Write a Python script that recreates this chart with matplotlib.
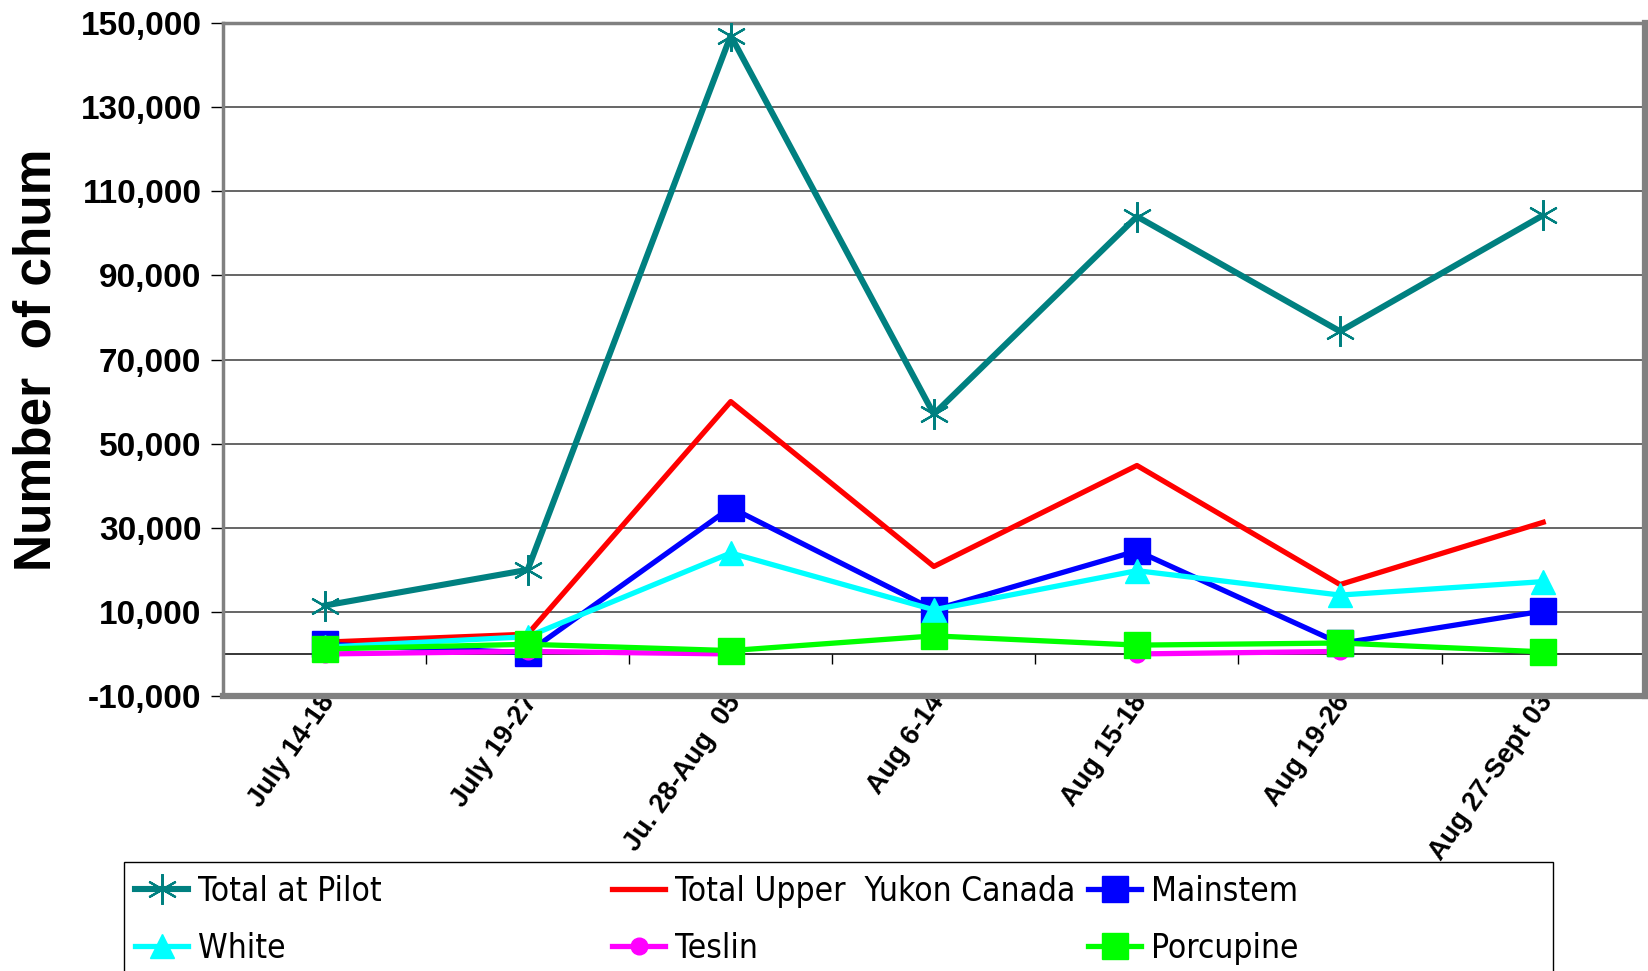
import numpy as np
import matplotlib
matplotlib.use("Agg")
import matplotlib.pyplot as plt
from matplotlib import font_manager
from matplotlib.patches import Rectangle
from matplotlib.transforms import Bbox, TransformedBbox, ScaledTranslation

# ---------------- data ----------------
periods = ["July 14-18", "July 19-27", "Ju. 28-Aug  05", "Aug 6-14",
           "Aug 15-18", "Aug 19-26", "Aug 27-Sept 03"]
total_pilot = [11500, 20000, 147000, 57000, 104000, 76700, 104300]
upper_yukon = [2800, 4700, 60000, 20800, 44800, 16500, 31300]
mainstem = [2300, 300, 34800, 10500, 24500, 2500, 10200]
white = [1600, 4100, 24000, 10500, 19800, 14000, 17200]
teslin = [0, 600, 0, np.nan, 0, 600, np.nan]
porcupine = [1200, 2300, 800, 4300, 2100, 2600, 500]
series_names = ["Total at Pilot", "Total Upper  Yukon Canada", "Mainstem",
                "White", "Teslin", "Porcupine"]
y_ticks = list(range(-10000, 150001, 20000))

fl = font_manager.fontManager.ttflist
names = {f.name for f in fl}
if "Liberation Sans Narrow" in names:
    leg_font = dict(family="Liberation Sans Narrow", size=27)
    leg_spacing = 0.5
elif any(f.name == "DejaVu Sans" and f.stretch == "condensed" for f in fl):
    leg_font = dict(family="DejaVu Sans", stretch="condensed", size=24)
    leg_spacing = 0.72
else:
    leg_font = dict(family="Liberation Sans", size=24)
    leg_spacing = 0.76

plt.rcParams['font.family'] = ['Liberation Sans', 'DejaVu Sans']

fig = plt.figure(figsize=(16.48, 9.71), dpi=100)
ax = fig.add_axes([0.1353, 0.2832, 0.8627, 0.6931])

x = np.arange(len(periods))
l1, = ax.plot(x, total_pilot, color="#008080", lw=4.4, marker=(6, 2, 0),
              ms=22, mew=1.6, mec="#008080", zorder=3)
l2, = ax.plot(x, upper_yukon, color="#FF0000", lw=3.8, zorder=3)
l3, = ax.plot(x, mainstem, color="#0000FF", lw=3.8, marker="s", ms=19,
              mec="#0000FF", zorder=3)
l4, = ax.plot(x, white, color="#00FFFF", lw=3.8, marker="^", ms=17,
              mec="#00FFFF", zorder=3)
l5, = ax.plot(x, teslin, color="#FF00FF", lw=3.8, marker="o", ms=12,
              mec="#FF00FF", zorder=3)
l6, = ax.plot(x, porcupine, color="#00FF00", lw=3.8, marker="s", ms=19,
              mec="#00FF00", zorder=3)

ax.set_xlim(-0.5, len(periods) - 0.5)
ax.set_ylim(-10000, 150000)
ax.set_yticks(y_ticks)
ax.set_yticklabels([f"{v:,}" for v in y_ticks], fontsize=24, fontweight="bold")
ax.tick_params(axis="y", direction="out", length=8.5, width=1, pad=7, color="black")
ax.grid(axis="y", color="#3c3c3c", lw=1.1, zorder=1)
ax.set_axisbelow(True)

for side in ["left", "top"]:
    ax.spines[side].set_color("#808080")
    ax.spines[side].set_linewidth(2.5)
for side in ["right", "bottom"]:
    ax.spines[side].set_color("#808080")
    ax.spines[side].set_linewidth(4.5)

ax.set_ylabel("Number  of chum", fontsize=37, fontweight="bold")
ax.yaxis.label.set_verticalalignment("center")
ax.yaxis.set_label_coords(-0.131, 0.5)

# x tick labels
ax.set_xticks(x)
ax.set_xticklabels(periods, rotation=55, ha="right", va="center",
                   rotation_mode="anchor", fontsize=19.5, fontweight="bold")
ax.tick_params(axis="x", length=0, pad=1)
clip = TransformedBbox(Bbox.from_extents(0, 0, 1, (971 - 699) / 971), fig.transFigure)
for lab in ax.get_xticklabels():
    lab.set_transform(lab.get_transform() + ScaledTranslation(5 / 100, 0, fig.dpi_scale_trans))
    lab.set_clip_box(clip)
    lab.set_clip_on(True)

# zero line with boundary ticks
sec = ax.secondary_xaxis(10000 / 160000)
sec.set_xticks(np.arange(-0.5, len(periods), 1.0))
sec.tick_params(axis="x", direction="out", length=7, width=1, color="black",
                labelbottom=False, labeltop=False)
for sp in sec.spines.values():
    sp.set_color("black")
    sp.set_linewidth(1.1)

# legend frame and legend columns
fig.add_artist(Rectangle((124 / 1648, -0.05), (1553 - 124) / 1648, 0.05 + (971 - 862) / 971,
                         transform=fig.transFigure, facecolor="white",
                         edgecolor="black", lw=1.0, zorder=2))
handles = [l1, l2, l3, l4, l5, l6]
cols_x = [135 / 1648, 612 / 1648, 1088 / 1648]
for i, cx in enumerate(cols_x):
    hs = [handles[i], handles[i + 3]]
    labs = [series_names[i], series_names[i + 3]]
    fig.legend(hs, labs, loc="center left", bbox_to_anchor=(cx, 1 - 920 / 971),
               frameon=False, prop=leg_font, numpoints=1, handlelength=1.6,
               handletextpad=0.3, labelspacing=leg_spacing, borderpad=0, borderaxespad=0)

fig.savefig("out.png", dpi=100)
